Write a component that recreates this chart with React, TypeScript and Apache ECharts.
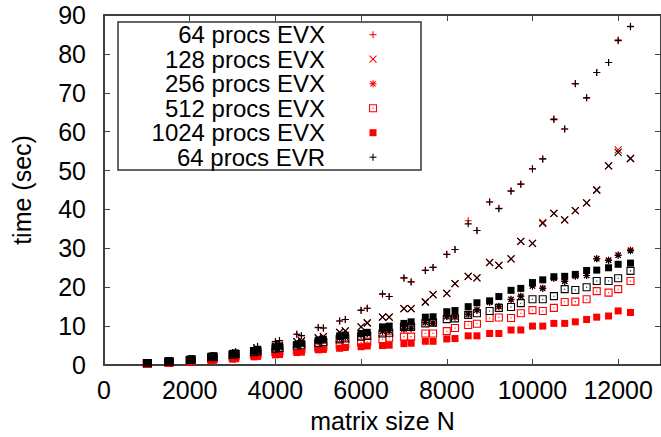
import React, { useEffect, useRef } from 'react';
import * as echarts from 'echarts';

// Matrix sizes: multiples of 500 interleaved with multiples of 512
const matrixSize = [
  1000, 1024, 1500, 1536, 2000, 2048, 2500, 2560, 3000, 3072, 3500, 3584,
  4000, 4096, 4500, 4608, 5000, 5120, 5500, 5632, 6000, 6144, 6500, 6656,
  7000, 7168, 7500, 7680, 8000, 8192, 8500, 8704, 9000, 9216, 9500, 9728,
  10000, 10240, 10500, 10752, 11000, 11264, 11500, 11776, 12000, 12288,
];

// Run times in seconds, one value per matrix size
const evx64 = [
  0.4, 0.4, 0.8, 0.9, 1.4, 1.5, 2.2, 2.3, 3.2, 3.4, 4.5, 4.7,
  6.0, 6.2, 7.9, 7.5, 9.7, 9.5, 11.3, 11.7, 14.0, 14.6, 18.2, 17.6,
  22.4, 21.3, 24.4, 25.1, 28.5, 29.7, 37.1, 34.6, 41.9, 40.3, 44.8, 46.5,
  50.5, 53.0, 63.3, 60.7, 72.4, 68.7, 75.2, 77.8, 83.6, 87.1,
];
const evx128 = [
  0.4, 0.4, 0.7, 0.8, 1.2, 1.3, 1.9, 2.0, 2.7, 2.9, 3.6, 3.8,
  4.8, 5.0, 6.0, 6.2, 7.0, 7.3, 8.4, 8.8, 9.8, 10.9, 12.3, 12.3,
  14.5, 14.5, 16.2, 18.1, 18.4, 20.9, 22.8, 22.4, 26.4, 25.6, 27.3, 31.8,
  31.3, 36.7, 39.0, 37.3, 39.7, 41.7, 45.0, 51.2, 55.3, 53.1,
];
const evx256 = [
  0.4, 0.4, 0.8, 0.8, 1.3, 1.4, 1.9, 2.0, 2.6, 2.8, 3.4, 3.6,
  4.3, 4.5, 5.3, 5.5, 6.2, 6.4, 7.0, 7.2, 7.8, 8.1, 8.6, 8.8,
  9.2, 9.4, 10.9, 10.7, 12.4, 12.3, 13.0, 14.1, 16.1, 15.0, 16.8, 17.7,
  20.3, 19.8, 22.3, 21.6, 22.9, 23.0, 27.4, 27.0, 28.3, 29.6,
];
const evx512 = [
  0.3, 0.3, 0.6, 0.6, 1.0, 1.1, 1.5, 1.6, 2.1, 2.2, 2.7, 2.8,
  3.3, 3.5, 3.9, 4.1, 4.5, 4.7, 5.1, 5.3, 5.8, 6.0, 6.6, 7.0,
  7.3, 7.3, 8.1, 8.1, 8.7, 9.5, 10.3, 10.6, 12.1, 12.2, 12.1, 13.3,
  14.1, 13.9, 14.7, 16.2, 16.3, 16.9, 19.0, 18.6, 19.5, 21.6,
];
const evx1024 = [
  0.3, 0.3, 0.5, 0.5, 0.8, 0.8, 1.1, 1.2, 1.5, 1.6, 2.1, 2.2,
  2.6, 2.7, 3.2, 3.3, 3.9, 4.0, 4.3, 4.5, 4.7, 4.9, 5.0, 5.1,
  5.5, 5.6, 6.1, 6.1, 6.7, 6.8, 7.5, 7.5, 8.1, 8.1, 9.0, 9.0,
  10.0, 10.0, 10.7, 10.7, 11.1, 11.7, 12.3, 12.6, 13.9, 13.5,
];
const evr64 = [
  0.4, 0.4, 0.8, 0.9, 1.4, 1.5, 2.2, 2.3, 3.2, 3.4, 4.5, 4.8,
  6.0, 6.3, 7.9, 7.6, 9.6, 9.5, 11.3, 11.7, 14.1, 14.6, 18.3, 17.6,
  22.4, 21.4, 24.3, 25.1, 28.4, 29.7, 36.3, 34.6, 41.9, 40.2, 44.7, 46.5,
  50.4, 53.0, 63.1, 60.7, 72.3, 68.7, 75.2, 77.8, 83.4, 87.0,
];
const evr128 = [
  0.4, 0.4, 0.7, 0.8, 1.2, 1.3, 1.9, 2.0, 2.7, 2.9, 3.6, 3.8,
  4.8, 5.0, 6.0, 6.2, 7.0, 7.3, 8.4, 8.8, 9.8, 10.8, 12.3, 12.3,
  14.5, 14.5, 16.2, 18.1, 18.4, 20.9, 22.8, 22.4, 26.3, 25.6, 27.3, 31.8,
  31.3, 36.4, 39.0, 37.3, 39.7, 41.7, 45.0, 51.2, 54.7, 53.1,
];
const evr256 = [
  0.4, 0.4, 0.8, 0.8, 1.3, 1.4, 1.9, 2.0, 2.6, 2.8, 3.4, 3.6,
  4.3, 4.5, 5.3, 5.5, 6.2, 6.4, 7.0, 7.2, 7.9, 8.1, 8.7, 8.9,
  9.3, 9.5, 11.0, 10.8, 12.5, 12.4, 13.1, 14.2, 16.2, 15.1, 16.9, 17.7,
  20.3, 19.7, 22.3, 21.5, 22.8, 23.0, 27.3, 26.9, 28.2, 29.4,
];
const evr512 = [
  0.5, 0.5, 0.9, 0.9, 1.3, 1.4, 2.0, 2.1, 2.6, 2.8, 3.3, 3.5,
  4.2, 4.4, 5.0, 5.2, 5.7, 5.9, 6.6, 6.8, 7.3, 7.5, 8.1, 8.3,
  9.8, 9.8, 10.7, 10.9, 11.8, 12.0, 12.9, 13.3, 13.9, 14.7, 14.9, 15.9,
  16.9, 16.9, 17.7, 19.5, 19.3, 20.0, 21.6, 21.6, 22.3, 24.2,
];
const evr1024 = [
  0.6, 0.6, 1.1, 1.1, 1.5, 1.6, 2.3, 2.4, 3.0, 3.1, 3.7, 3.9,
  4.7, 4.9, 5.3, 5.6, 6.4, 6.6, 7.5, 7.7, 8.1, 8.4, 9.8, 10.0,
  10.7, 11.1, 12.3, 12.4, 13.7, 14.0, 15.0, 16.0, 16.5, 17.6, 19.2, 19.7,
  21.2, 21.9, 22.7, 22.8, 23.3, 24.3, 24.4, 25.0, 25.9, 26.2,
];

const xTickStep = 2000;
const yTickStep = 10;

const RED = '#ff0000';
const BLACK = '#000000';
const FONT = '"Liberation Sans", Arial, sans-serif';
const KEY_FONT_SIZE = 24;
const AXIS_FONT_SIZE = 25;

type Kind = 'plus' | 'cross' | 'star' | 'box' | 'square';

const SYMBOLS: Record<Kind, string> = {
  plus: 'path://M0,4L8,4M4,0L4,8',
  cross: 'path://M0,0L8,8M8,0L0,8',
  star: 'path://M0,4L8,4M4,0L4,8M1,1L7,7M7,1L1,7',
  box: 'path://M0,0L8,0L8,8L0,8ZM4,3.4L4,4.6',
  square: 'rect',
};

type SeriesDef = { name: string; values: number[]; kind: Kind; color: string; inKey: boolean };

const seriesDefs: SeriesDef[] = [
  { name: '64 procs EVX', values: evx64, kind: 'plus', color: RED, inKey: true },
  { name: '128 procs EVX', values: evx128, kind: 'cross', color: RED, inKey: true },
  { name: '256 procs EVX', values: evx256, kind: 'star', color: RED, inKey: true },
  { name: '512 procs EVX', values: evx512, kind: 'box', color: RED, inKey: true },
  { name: '1024 procs EVX', values: evx1024, kind: 'square', color: RED, inKey: true },
  { name: '64 procs EVR', values: evr64, kind: 'plus', color: BLACK, inKey: true },
  { name: '128 procs EVR', values: evr128, kind: 'cross', color: BLACK, inKey: false },
  { name: '256 procs EVR', values: evr256, kind: 'star', color: BLACK, inKey: false },
  { name: '512 procs EVR', values: evr512, kind: 'box', color: BLACK, inKey: false },
  { name: '1024 procs EVR', values: evr1024, kind: 'square', color: BLACK, inKey: false },
];

// Key box geometry
const KEY = { left: 118, top: 22, width: 303, height: 148, textRight: 325, markX: 373, firstRow: 34.7, rowStep: 24.5 };

function keyGlyph(kind: Kind, color: string, cx: number, cy: number): any[] {
  const h = 3.5;
  const line = (x1: number, y1: number, x2: number, y2: number) => ({
    type: 'line',
    shape: { x1, y1, x2, y2 },
    style: { stroke: color, lineWidth: 1.1 },
  });
  const plus = [line(cx - h, cy, cx + h, cy), line(cx, cy - h, cx, cy + h)];
  const cross = [line(cx - h, cy - h, cx + h, cy + h), line(cx + h, cy - h, cx - h, cy + h)];
  switch (kind) {
    case 'plus':
      return plus;
    case 'cross':
      return cross;
    case 'star':
      return [...plus, line(cx - 2.6, cy - 2.6, cx + 2.6, cy + 2.6), line(cx + 2.6, cy - 2.6, cx - 2.6, cy + 2.6)];
    case 'box':
      return [
        { type: 'rect', shape: { x: cx - h, y: cy - h, width: 2 * h, height: 2 * h }, style: { fill: 'none', stroke: color, lineWidth: 1.1 } },
        line(cx, cy - 0.6, cx, cy + 0.6),
      ];
    default:
      return [{ type: 'rect', shape: { x: cx - h, y: cy - h, width: 2 * h, height: 2 * h }, style: { fill: color } }];
  }
}

function buildKey(): any[] {
  const children: any[] = [
    {
      type: 'rect',
      shape: { x: KEY.left, y: KEY.top, width: KEY.width, height: KEY.height },
      style: { fill: '#fff', stroke: '#333', lineWidth: 1.5 },
    },
  ];
  seriesDefs
    .filter((s) => s.inKey)
    .forEach((s, i) => {
      const cy = KEY.firstRow + i * KEY.rowStep;
      children.push({
        type: 'text',
        x: KEY.textRight,
        y: cy,
        style: {
          text: s.name,
          fill: '#000',
          font: `${KEY_FONT_SIZE}px ${FONT}`,
          align: 'right',
          verticalAlign: 'middle',
        },
      });
      children.push(...keyGlyph(s.kind, s.color, KEY.markX, cy));
    });
  return [{ type: 'group', z: 100, children }];
}

const labelStyle = { color: '#000', fontFamily: FONT, fontSize: AXIS_FONT_SIZE };
const tickStyle = { show: true, inside: true, length: 6, lineStyle: { color: '#444', width: 1 } };
const borderLine = { show: true, onZero: false, lineStyle: { color: '#000', width: 1.5 } };
const plainNumber = (v: number) => String(v);

export default function App() {
  const ref = useRef<HTMLDivElement>(null);

  useEffect(() => {
    if (!ref.current) return;
    const chart = echarts.init(ref.current, undefined, { renderer: 'svg' });

    const series = seriesDefs.map((s, i) => {
      const filled = s.kind === 'square';
      return {
        type: 'scatter',
        name: s.name,
        xAxisIndex: 0,
        yAxisIndex: 0,
        data: s.values.map((v, j) => [matrixSize[j], v]),
        symbol: SYMBOLS[s.kind],
        symbolSize: 7,
        z: 2 + i,
        silent: true,
        emphasis: { disabled: true },
        itemStyle: filled
          ? { color: s.color, opacity: 1 }
          : { color: 'transparent', borderColor: s.color, borderWidth: 1.1, opacity: 1 },
      };
    });

    chart.setOption({
      animation: false,
      backgroundColor: '#fff',
      textStyle: { fontFamily: FONT },
      grid: { left: 104, right: 0, top: 15, bottom: 72, containLabel: false, outerBoundsMode: 'none' },
      legend: { show: false },
      xAxis: [
        {
          type: 'value',
          position: 'bottom',
          min: 0,
          max: 13000,
          interval: xTickStep,
          axisLine: borderLine,
          axisTick: tickStyle,
          splitLine: { show: false },
          axisLabel: { ...labelStyle, margin: 12, showMaxLabel: false, formatter: plainNumber },
          name: 'matrix size N',
          nameLocation: 'middle',
          nameGap: 43,
          nameTextStyle: labelStyle,
        },
        {
          type: 'value',
          position: 'top',
          min: 0,
          max: 13000,
          interval: xTickStep,
          axisLine: borderLine,
          axisTick: tickStyle,
          splitLine: { show: false },
          axisLabel: { show: false },
        },
      ],
      yAxis: [
        {
          type: 'value',
          position: 'left',
          min: 0,
          max: 90,
          interval: yTickStep,
          axisLine: borderLine,
          axisTick: tickStyle,
          splitLine: { show: false },
          axisLabel: { ...labelStyle, margin: 18, formatter: plainNumber },
          name: 'time (sec)',
          nameLocation: 'middle',
          nameGap: 70,
          nameRotate: 90,
          nameTextStyle: labelStyle,
        },
        {
          type: 'value',
          position: 'right',
          min: 0,
          max: 90,
          interval: yTickStep,
          axisLine: borderLine,
          axisTick: tickStyle,
          splitLine: { show: false },
          axisLabel: { show: false },
        },
      ],
      series,
      graphic: buildKey(),
    });

    return () => chart.dispose();
  }, []);

  return (
    <div
      ref={ref}
      style={{ position: 'fixed', left: 0, top: 0, width: 661, height: 437, background: '#fff' }}
    />
  );
}
